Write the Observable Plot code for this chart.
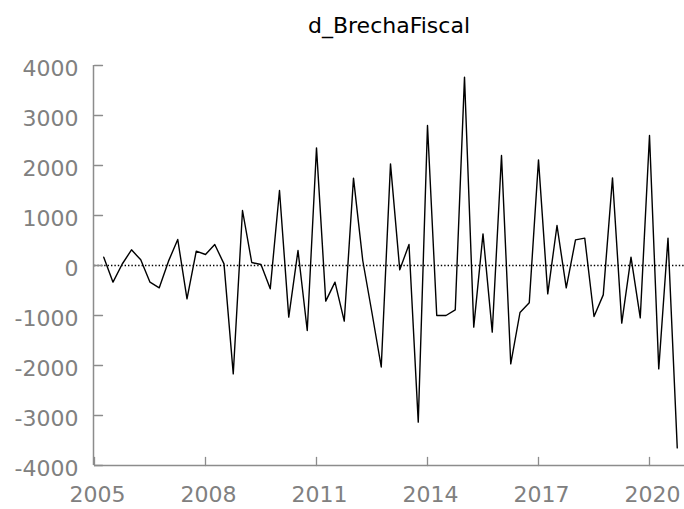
<!DOCTYPE html>
<html><head><meta charset="utf-8">
<script src="https://cdn.jsdelivr.net/npm/d3@7"></script>
<script src="https://cdn.jsdelivr.net/npm/@observablehq/plot@0.6"></script>
<style>
body{margin:0;background:#fff;}
#wrap{position:relative;width:684px;height:509px;}
#title{position:absolute;top:15px;left:94px;width:590px;text-align:center;font-family:"DejaVu Sans";font-size:22px;line-height:22px;color:#000;z-index:2;}
#chart{position:absolute;top:0;left:0;}
</style></head><body>
<div id="wrap"><div id="title">d_BrechaFiscal</div><div id="chart"></div></div>
<script>
const title = "d_BrechaFiscal";
const firstQuarter = 2005.25; // 2005 Q2, quarterly series
const values = [
  167, -333, 30, 313, 113, -333, -447, 87, 520, -667, 287, 220, 420, 33, -2167,
  1100, 60, 20, -467, 1500, -1033, 300, -1300, 2353, -713, -333, -1113, 1747, 100, -950,
  -2030, 2033, -87, 420, -3133, 2800, -1000, -1000, -887, 3767, -1233, 633, -1333, 2200, -1967,
  -940, -747, 2113, -567, 800, -447, 513, 547, -1020, -587, 1753, -1153, 167, -1047, 2600, -2067, 547, -3647
];
const xTicks = [2005, 2008, 2011, 2014, 2017, 2020];
const yTicks = [-4000, -3000, -2000, -1000, 0, 1000, 2000, 3000, 4000];

const data = values.map((v, i) => ({t: firstQuarter + i * 0.25, v}));
const gray = "#8c8c8c";
const textGray = "#808080";
const tickShape = {draw(ctx, l) { ctx.moveTo(0, 0); ctx.lineTo(0, -l); }};

const chart = Plot.plot({
  width: 684,
  height: 509,
  marginLeft: 94,
  marginRight: 0,
  marginTop: 65,
  marginBottom: 44,
  style: {fontFamily: "DejaVu Sans", fontSize: "22px", background: "transparent", overflow: "visible"},
  x: {domain: [2005, 2021], range: [94, 686]},
  y: {domain: [-4000, 4000], range: [465, 65]},
  marks: [
    Plot.ruleY([0], {stroke: "black", strokeWidth: 1.3, strokeDasharray: "1.4,2"}),
    Plot.ruleX([2005], {stroke: gray, strokeWidth: 1.5, dx: -1}),
    Plot.ruleY([-4000], {stroke: gray, strokeWidth: 1.5}),
    Plot.vector(yTicks, {y: d => d, frameAnchor: "left", rotate: 90, length: 8, anchor: "start", shape: tickShape, stroke: gray, strokeWidth: 1.3}),
    Plot.vector(xTicks, {x: d => d, frameAnchor: "bottom", rotate: 0, length: 8, anchor: "start", shape: tickShape, stroke: gray, strokeWidth: 1.3}),
    Plot.axisY(yTicks, {tickSize: 0, tickPadding: 16, dy: 3, tickFormat: d => String(d), color: textGray, fontSize: 22, fontFamily: "DejaVu Sans", label: null}),
    Plot.axisX(xTicks, {tickSize: 0, tickPadding: 21, dx: 3, tickFormat: d => String(d), color: textGray, fontSize: 22, fontFamily: "DejaVu Sans", label: null}),
    Plot.line(data, {x: "t", y: "v", stroke: "black", strokeWidth: 1.4})
  ]
});
document.getElementById("chart").appendChild(chart);
</script>
</body></html>
